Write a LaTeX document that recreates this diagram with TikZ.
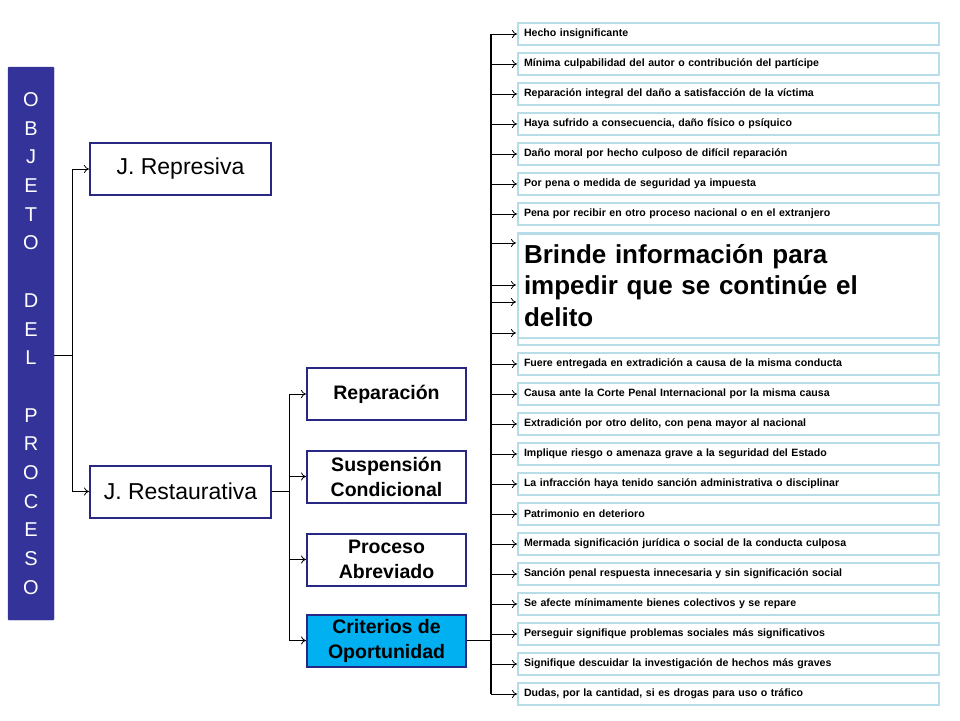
\documentclass[tikz,border=0pt]{standalone}
\usepackage{fontspec}
\usetikzlibrary{arrows.meta}
\setmainfont{Liberation Sans}
\definecolor{colbox}{RGB}{51,51,153}
\definecolor{edgeb}{RGB}{40,40,130}
\definecolor{teal1}{RGB}{183,221,232}
\definecolor{cyanf}{RGB}{0,176,240}
\begin{document}
\begin{tikzpicture}[x=1pt,y=-1pt,
  small/.style={draw=teal1, line width=2pt, fill=white, minimum width=421pt, minimum height=22pt, inner sep=0pt, font=\bfseries\fontsize{10.6}{12}\selectfont, text width=409pt, align=left},
  lvl1/.style={draw=edgeb, line width=2pt, fill=white, minimum width=181pt, minimum height=52pt, font=\fontsize{23}{26}\selectfont},
  lvl2/.style={draw=edgeb, line width=2pt, fill=white, minimum width=159pt, minimum height=52pt, inner sep=0pt, font=\bfseries\fontsize{19.5}{25}\selectfont, align=center},
  conn/.style={draw=black, line width=0.8pt},
  arr/.style={conn, -{To[length=5pt,width=8pt]}}]
\useasboundingbox (0,0) rectangle (960,720);
\fill[white] (0,0) rectangle (960,720);
\node[fill=colbox, draw=colbox, minimum width=46pt, minimum height=553pt, inner sep=0pt, text=white, font=\fontsize{20}{28.7}\selectfont, align=center, rounded corners=1pt] (obj) at (31,343.5)
 {O\\B\\J\\E\\T\\O\\[28.7pt]D\\E\\L\\[28.7pt]P\\R\\O\\C\\E\\S\\O};
\node[lvl1] (rep) at (180.5,169) {J. Represiva};
\node[lvl1] (res) at (180.5,491.5) {J. Restaurativa};
\coordinate (b1) at (72,355);
\draw[conn] (obj.east |- b1) -- (b1);
\draw[arr] (b1) |- (rep.west);
\draw[arr] (b1) |- (res.west);
\node[lvl2] (rp) at (386.5,394) {Reparación};
\node[lvl2] (su) at (386.5,476.5) {Suspensión\\Condicional};
\node[lvl2] (pa) at (386.5,559.5) {Proceso\\Abreviado};
\node[lvl2, fill=cyanf] (co) at (386.5,640.5) {Criterios de\\Oportunidad};
\coordinate (b2) at (289,491.5);
\draw[conn] (res.east) -- (b2);
\draw[arr] (b2) |- (rp.west);
\draw[arr] (b2) |- (su.west);
\draw[arr] (b2) |- (pa.west);
\draw[arr] (b2) |- (co.west);
\coordinate (b3) at (491,640.5);
\coordinate (top) at (491,34);
\coordinate (bot) at (491,694);
\draw[conn, line width=1.2pt] (co.east) -- (b3);
\draw[conn, line width=1.2pt] (top) -- (bot);
\foreach \i/\t in {
 0/{Hecho insignificante},
 1/{Mínima culpabilidad del autor o contribución del partícipe},
 2/{Reparación integral del daño a satisfacción de la víctima},
 3/{Haya sufrido a consecuencia, daño físico o psíquico},
 4/{Daño moral por hecho culposo de difícil reparación},
 5/{Por pena o medida de seguridad ya impuesta},
 6/{Pena por recibir en otro proceso nacional o en el extranjero},
 7/{},8/{},9/{},10/{},
 11/{Fuere entregada en extradición a causa de la misma conducta},
 12/{Causa ante la Corte Penal Internacional por la misma causa},
 13/{Extradición por otro delito, con pena mayor al nacional},
 14/{Implique riesgo o amenaza grave a la seguridad del Estado},
 15/{La infracción haya tenido sanción administrativa o disciplinar},
 16/{Patrimonio en deterioro},
 17/{Mermada significación jurídica o social de la conducta culposa},
 18/{Sanción penal respuesta innecesaria y sin significación social},
 19/{Se afecte mínimamente bienes colectivos y se repare},
 20/{Perseguir signifique problemas sociales más significativos},
 21/{Signifique descuidar la investigación de hechos más graves},
 22/{Dudas, por la cantidad, si es drogas para uso o tráfico}} {
  \node[small] (s\i) at (728.5,34+30*\i) {\t};
}
\foreach \i in {0,...,6,11,12,...,22} {\draw[arr] (491,34+30*\i) -- (s\i.west);}
\foreach \y in {243,285,302,333} {\draw[arr] (491,\y) -- (516,\y);}
\node[draw=teal1, line width=2pt, fill=white, minimum width=421pt, minimum height=104pt, inner sep=0pt, text width=409pt, align=left, font=\bfseries\fontsize{26}{31.5}\selectfont] (big) at (728.5,285.5)
 {Brinde información para\\impedir que se continúe el\\delito};
\end{tikzpicture}
\end{document}
